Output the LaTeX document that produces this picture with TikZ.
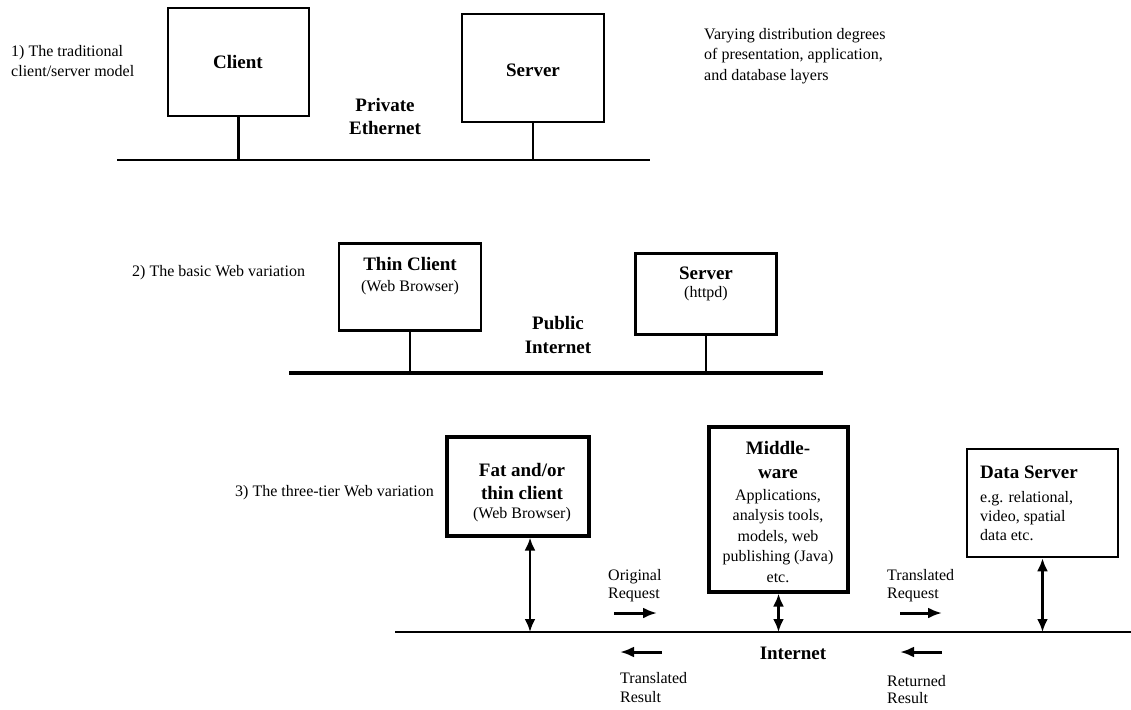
\documentclass[tikz,border=0pt]{standalone}
\usepackage{fontspec}
\setmainfont{Liberation Serif}
\usetikzlibrary{arrows.meta,calc}

\begin{document}
\begin{tikzpicture}[x=1pt,y=-1pt,
  box/.style={draw, line width=2.2pt, inner sep=0pt},
  heavybox/.style={draw, line width=3.2pt, inner sep=0pt},
  net/.style={line width=2.8pt},
  stem/.style={line width=2.2pt},
  dbl/.style={line width=2.4pt, {Latex[length=13pt,width=11pt]}-{Latex[length=13pt,width=11pt]}},
  flow/.style={line width=3pt, -{Latex[length=14pt,width=11pt]}},
  txt/.style={inner sep=0pt, font=\fontsize{16}{20.5}\selectfont},
  head/.style={inner sep=0pt, align=center, font=\fontsize{19}{23.5}\selectfont\bfseries},
]
\useasboundingbox (0,0) rectangle (1131,709);

% ---------- 1) traditional client/server ----------
\node[txt, align=left, anchor=west] (lab1) at (11,61) {1) The traditional\\client/server model};
\node[txt, align=left, anchor=west] (vary) at (704,56) {Varying distribution degrees\\of presentation, application,\\and database layers};

\node[box, minimum width=141pt, minimum height=108pt] (client) at (238.5,62) {};
\node[head] (clientT) at (238,62) {Client};
\node[box, minimum width=142pt, minimum height=108pt] (server) at (533,68) {};
\node[head] (serverT) at (533,70) {Server};
\node[head] (eth) at (385,116.5) {Private\\Ethernet};

\coordinate (n1a) at (117,160);
\coordinate (n1b) at (650,160);
\draw[net] (n1a) -- (n1b);
\draw[stem] (client.south) -- (client.south |- n1a);
\draw[stem] (server.south) -- (server.south |- n1a);

% ---------- 2) basic Web variation ----------
\node[txt, anchor=west] (lab2) at (132,273) {2) The basic Web variation};

\node[box, minimum width=142pt, minimum height=87pt] (thin) at (410,287) {};
\node[head] (thinT) at (410,264) {Thin Client};
\node[txt] (thinS) at (410,288) {(Web Browser)};
\node[box, minimum width=141pt, minimum height=81pt] (httpd) at (706,294) {};
\node[head] (httpdT) at (706,273) {Server};
\node[txt] (httpdS) at (706,294) {(httpd)};
\node[head] (pub) at (558,335) {Public\\Internet};

\coordinate (n2a) at (289,373);
\coordinate (n2b) at (823,373);
\draw[net, line width=3.2pt] (n2a) -- (n2b);
\draw[stem] (thin.south) -- (thin.south |- n2a);
\draw[stem] (httpd.south) -- (httpd.south |- n2a);

% ---------- 3) three-tier Web variation ----------
\node[txt, anchor=west] (lab3) at (235,493) {3) The three-tier Web variation};

\node[heavybox, minimum width=142pt, minimum height=99pt] (fat) at (518,486.5) {};
\node[head] (fatT) at (522,481.5) {Fat and/or\\thin client};
\node[txt] (fatS) at (522,515) {(Web Browser)};

\node[heavybox, minimum width=139pt, minimum height=165pt] (mid) at (778.5,509.5) {};
\node[head, font=\fontsize{19}{24}\selectfont\bfseries] (midT) at (778,460) {Middle-\\ware};
\node[txt, align=center] (midS) at (778,536) {Applications,\\analysis tools,\\models, web\\publishing (Java)\\etc.};

\node[box, line width=2.6pt, minimum width=151pt, minimum height=108pt] (data) at (1042.5,503) {};
\node[head, anchor=west] (dataT) at (980,472) {Data Server};
\node[txt, align=left, anchor=west, font=\fontsize{16}{19}\selectfont] (dataS) at (980,516) {e.g. relational,\\video, spatial\\data etc.};

\coordinate (n3a) at (395,632);
\coordinate (n3b) at (1131,632);
\draw[net] (n3a) -- (n3b);
\node[head] (inet) at (793,653) {Internet};

\draw[dbl] ($(fat.south)+(12,0)$) -- ($(fat.south |- n3a)+(12,0)$);
\draw[dbl] (mid.south) -- (mid.south |- n3a);
\draw[dbl] (data.south) -- (data.south |- n3a);

% request / result flows
\node[txt, align=left, anchor=west, font=\fontsize{16}{18}\selectfont] (origreq) at (608,586) {Original\\Request};
\coordinate (r1a) at (614,613);
\coordinate (r1b) at (657,613);
\draw[flow] (r1a) -- (r1b);
\coordinate (t1a) at (662,652);
\coordinate (t1b) at (620,652);
\draw[flow] (t1a) -- (t1b);
\node[txt, align=left, anchor=west, font=\fontsize{16}{19}\selectfont] (transres) at (620,687.5) {Translated\\Result};

\node[txt, align=left, anchor=west, font=\fontsize{16}{18}\selectfont] (transreq) at (887,586) {Translated\\Request};
\coordinate (r2a) at (900,613);
\coordinate (r2b) at (942,613);
\draw[flow] (r2a) -- (r2b);
\coordinate (t2a) at (942,652);
\coordinate (t2b) at (900,652);
\draw[flow] (t2a) -- (t2b);
\node[txt, align=left, anchor=west, font=\fontsize{16}{17}\selectfont] (retres) at (887,690) {Returned\\Result};

\end{tikzpicture}
\end{document}
